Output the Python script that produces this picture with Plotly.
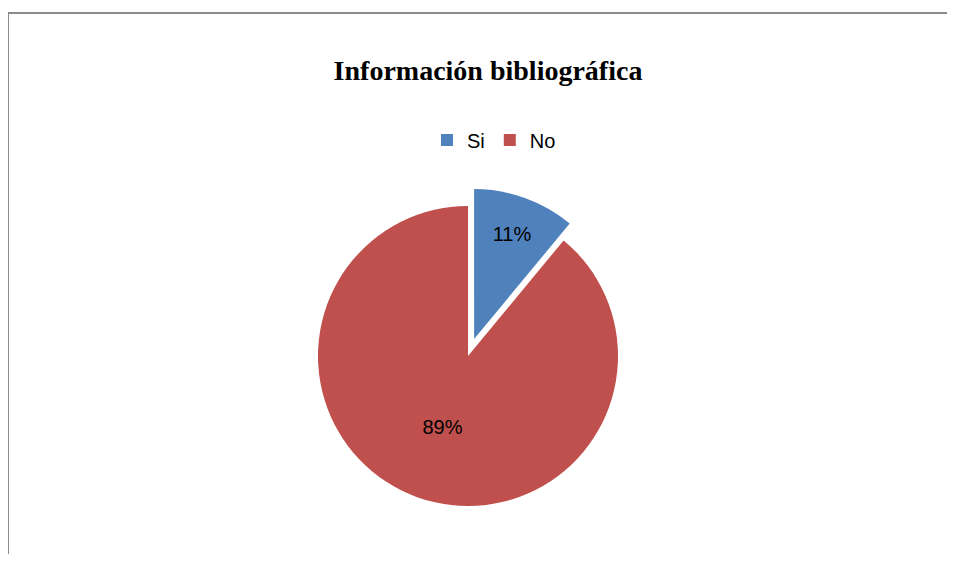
import plotly.graph_objects as go

categories = ["Si", "No"]
values = [11, 89]
colors = ["#4F81BD", "#C0504D"]

# page body has an 8px margin, so the figure is sized to fit the window
W, H = 947, 546
OFF = 8  # offset between window and figure coordinates


def px_x(x):
    return (x - OFF) / W


def px_y(y):
    return 1 - (y - OFF) / H


cx, cy, r = 468, 356, 168  # domain centre and half-size in window pixels

fig = go.Figure(go.Pie(
    labels=categories,
    values=values,
    sort=False,
    direction="clockwise",
    rotation=0,
    pull=[0.12, 0],
    marker=dict(colors=colors, line=dict(width=0)),
    textinfo="percent",
    textposition="inside",
    insidetextorientation="horizontal",
    textfont=dict(family="Liberation Sans, Arial, sans-serif", size=20, color="#000000"),
    domain=dict(x=[px_x(cx - r), px_x(cx + r)], y=[px_y(cy + r), px_y(cy - r)]),
    hoverinfo="label+percent",
))

fig.update_layout(
    width=W, height=H,
    margin=dict(l=0, r=0, t=0, b=0),
    paper_bgcolor="white",
    plot_bgcolor="white",
    title=dict(
        text="<b>Información bibliográfica</b>",
        x=px_x(488), xanchor="center",
        y=px_y(70), yanchor="middle",
        font=dict(family="Liberation Serif, Times New Roman, serif", size=28, color="#000000"),
    ),
    legend=dict(
        orientation="h",
        x=px_x(494), xanchor="center",
        y=px_y(140), yanchor="middle",
        font=dict(family="Liberation Sans, Arial, sans-serif", size=20, color="#000000"),
        itemwidth=30,
    ),
    shapes=[dict(
        type="rect", xref="paper", yref="paper",
        x0=px_x(8), x1=1.05, y0=-0.05, y1=px_y(13),
        line=dict(color="#8C8C8C", width=2),
        fillcolor="rgba(0,0,0,0)",
        layer="above",
    )],
)

fig.write_html("out.html")
